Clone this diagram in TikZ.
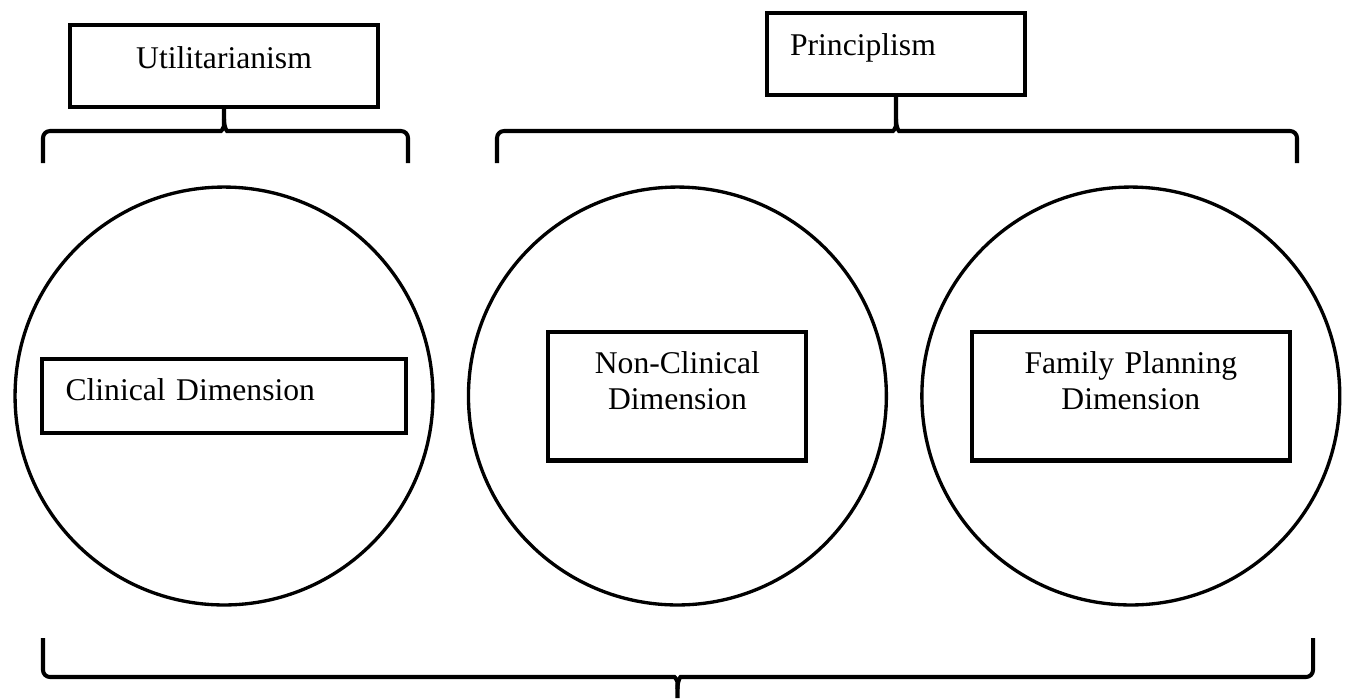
\documentclass[tikz,border=0pt]{standalone}
\usepackage{fontspec}
\setmainfont{Liberation Serif}
\usetikzlibrary{positioning}
\tikzstyle{ring}=[draw,circle,line width=1.9pt,minimum size=8.36cm,inner sep=0pt]
\tikzstyle{box}=[draw,rectangle,line width=2.3pt,inner ysep=0pt,
  font=\fontsize{18}{20.5}\selectfont]
\tikzstyle{brace}=[line width=2.3pt,rounded corners=.14cm]

\begin{document}
\begin{tikzpicture}[x=.02cm, y=-.02cm, node distance=9.07cm, on grid]
  \useasboundingbox (0,0) rectangle (1348,698);

  \node[ring] (c1) at (224,396) {};
  \node[ring, right=of c1] (c2) {};
  \node[ring, right=of c2] (c3) {};

  \node[box, text width=6.34cm, inner xsep=.48cm, text height=.82cm,
    text depth=.66cm, align=left] (clin) at (c1) {Clinical Dimension};
  \node[box, text width=4.56cm, inner xsep=.3cm, text height=.84cm,
    text depth=1.74cm, align=center] (nonclin) at (c2)
    {Non-Clinical\\Dimension};
  \node[box, text width=5.76cm, inner xsep=.3cm, text height=.84cm,
    text depth=1.74cm, align=center] (famplan) at (c3)
    {Family Planning\\Dimension};

  \node[box, text width=5.2cm, inner xsep=.48cm, text height=.86cm,
    text depth=.78cm, align=center] (util) at (224,66) {Utilitarianism};
  \node[box, text width=4.24cm, inner xsep=.46cm, text height=.84cm,
    text depth=.8cm, align=left] (princ) at (896,54) {Principlism};

  % braces
  \draw[brace] (43,163) |- (214,131)
    .. controls (221,131) and (224,128) .. (224,119) -- (util.south);
  \draw[brace] (408,163) |- (234,131)
    .. controls (227,131) and (224,128) .. (224,119);
  \draw[brace] (497,163) |- (886,131)
    .. controls (893,131) and (896,128) .. (896,119) -- (princ.south);
  \draw[brace] (1297,163) |- (906,131)
    .. controls (899,131) and (896,128) .. (896,119);

  \coordinate (foot) at (677.5,698);
  \draw[brace] (43,638) |- (667.5,677)
    .. controls (674.5,677) and (677.5,680) .. (677.5,689) -- (foot);
  \draw[brace] (1313,638) |- (687.5,677)
    .. controls (680.5,677) and (677.5,680) .. (677.5,689);
\end{tikzpicture}
\end{document}
